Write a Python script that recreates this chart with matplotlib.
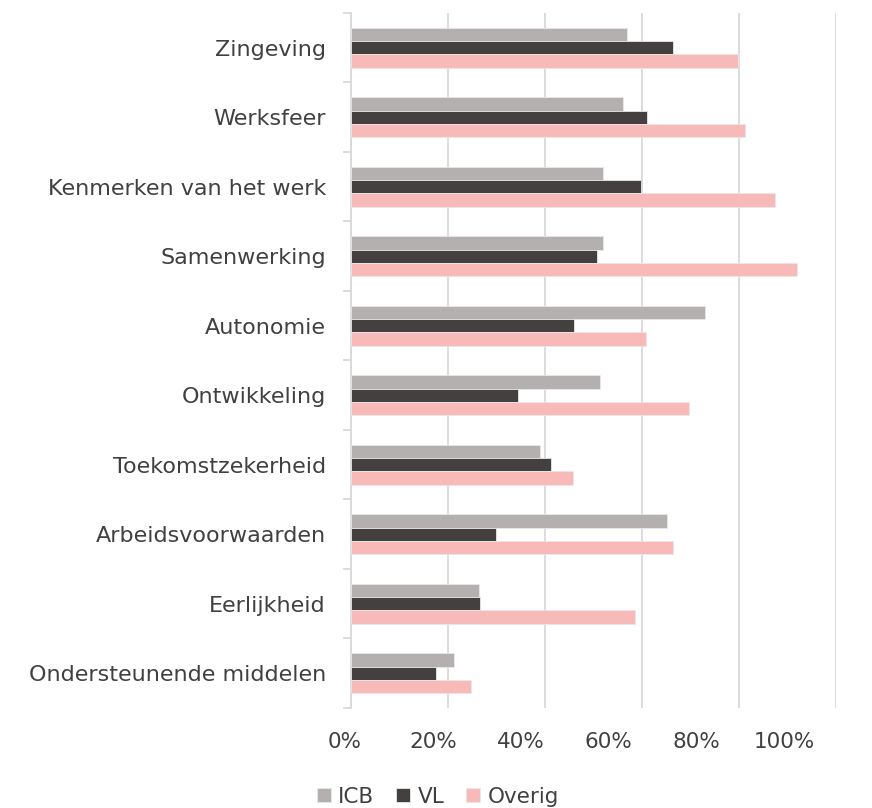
import matplotlib
matplotlib.use("Agg")
import matplotlib.pyplot as plt
import matplotlib.transforms as mtransforms
import numpy as np

categories = ["Zingeving", "Werksfeer", "Kenmerken van het werk", "Samenwerking",
              "Autonomie", "Ontwikkeling", "Toekomstzekerheid", "Arbeidsvoorwaarden",
              "Eerlijkheid", "Ondersteunende middelen"]
icb = [56.9, 56.1, 52.0, 51.9, 73.1, 51.4, 39.0, 65.1, 26.4, 21.2]
vl = [66.5, 61.1, 59.9, 50.8, 46.0, 34.5, 41.3, 30.0, 26.7, 17.5]
overig = [79.8, 81.3, 87.4, 92.1, 60.8, 69.8, 45.9, 66.5, 58.5, 24.7]
series_names = ["ICB", "VL", "Overig"]
colors = ["#b4b0af", "#454040", "#f8b9b9"]
xticks = [0, 20, 40, 60, 80, 100]
xticklabels = ["0%", "20%", "40%", "60%", "80%", "100%"]

plt.rcParams['font.family'] = ['DejaVu Sans']
text_color = "#404040"

fig = plt.figure(figsize=(8.72, 8.08), dpi=100)
ax = fig.add_axes([0.4025, 0.1238, 0.9584 - 0.4025, 0.984 - 0.1238])

n = len(categories)
y = np.arange(n)
bh = 0.192
for i, (vals, name, c) in enumerate(zip([icb, vl, overig], series_names, colors)):
    ax.barh(y + (i - 1) * bh, vals, height=bh, color=c, label=name,
            edgecolor="#e8e8e8", linewidth=0.6, zorder=3)

ax.set_ylim(n - 0.5, -0.5)
ax.set_xlim(0, 100)
ax.set_xticks(xticks)
ax.set_xticklabels(xticklabels, fontsize=15.5, color=text_color)
ax.tick_params(axis='x', length=0, pad=17)
ax.xaxis.grid(True, color="#d9d9d9", linewidth=1.3, zorder=0)
# the reference's tick labels drift progressively left of their gridlines
for i, lab in enumerate(ax.get_xticklabels()):
    shift = -(6 + 9.0 * i) / 100.0
    lab.set_transform(lab.get_transform() + mtransforms.ScaledTranslation(shift, 0, fig.dpi_scale_trans))

ax.set_yticks(y)
ax.set_yticklabels(categories, fontsize=16, color=text_color)
ax.tick_params(axis='y', length=0, pad=18)
ax.set_yticks(np.arange(-0.5, n, 1), minor=True)
ax.tick_params(axis='y', which='minor', length=6, color="#d9d9d9", width=1.3)

for s in ["top", "right", "bottom"]:
    ax.spines[s].set_visible(False)
ax.spines["left"].set_color("#d9d9d9")
ax.spines["left"].set_linewidth(1.3)

leg = fig.legend(loc="center", bbox_to_anchor=(0.502, 0.014), ncol=3, frameon=False,
                 fontsize=15.5, handlelength=0.65, handleheight=0.65, handletextpad=0.35,
                 columnspacing=1.0, labelcolor=text_color)

fig.savefig("out.png", dpi=100)
